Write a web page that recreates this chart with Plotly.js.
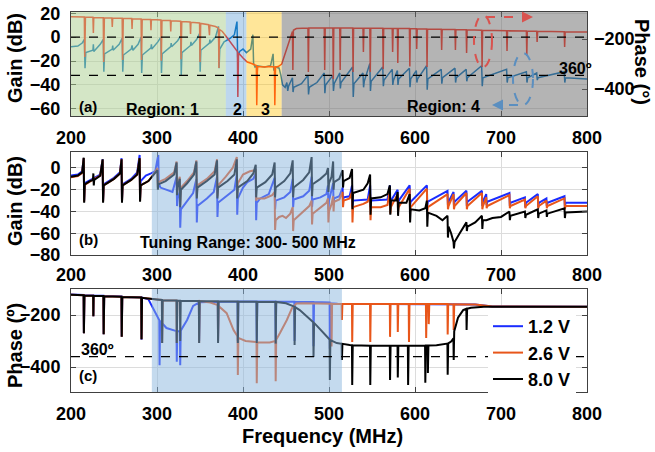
<!DOCTYPE html>
<html><head><meta charset="utf-8">
<script src="https://cdn.plot.ly/plotly-3.0.1.min.js"></script>
<style>html,body{margin:0;padding:0;background:#fff}#chart{width:655px;height:452px}</style>
</head><body><div id="chart"></div>
<script>
// ---------- data ----------
const freqTicks=[200,300,400,500,600,700,800];
const gainTicksA=[-60,-40,-20,0,20];
const phaseTicksA=[-400,-200];
const gainTicksB=[-80,-60,-40,-20,0];
const phaseTicksC=[-400,-200];
const legendNames=['1.2 V','2.6 V','8.0 V'];
const regionBounds=[200,380,404,445,800];   // Region 1 | 2 | 3 | 4 (MHz)
const tuningRange=[294,515];                 // MHz
const refGainLinesA=[0,-32];                 // dB
const refPhaseLineC=-360;                    // deg

// panel (a) phase (deg) [MHz, deg]
const aPhase=[[200,-111],[215.5,-112],[216,-272],[216.8,-113],[225.5,-113],[226,-176],[226.5,-114],[237.5,-115],[238,-292],[238.8,-116],[247.5,-116],[248,-152],[248.5,-117],[259.5,-117],[260,-284],[260.8,-118],[270.5,-118],[271,-160],[271.5,-119],[281.5,-120],[282,-284],[282.8,-121],[292.5,-122],[293,-165],[293.5,-122],[304.5,-124],[305,-287],[305.8,-125],[315.5,-126],[316,-170],[316.5,-127],[327.5,-129],[328,-281],[328.8,-130],[338.5,-132],[339,-180],[339.5,-133],[349.5,-136],[350,-292],[350.8,-138],[360,-143],[361,-185],[361.5,-145],[368,-150],[371.5,-156],[372,-316],[372.8,-162],[376,-170],[380,-188],[385,-212],[390,-234],[393.5,-250],[394,-432],[394.8,-256],[400,-276],[405,-292],[410,-298],[415.5,-306],[416,-465],[416.8,-310],[425,-312],[430,-310],[436.5,-312],[437,-465],[437.8,-312],[441,-310],[445,-300],[448,-270],[452,-225],[455,-195],[457.5,-170],[458,-324],[458.6,-165],[462,-158],[475.5,-156],[476,-332],[476.6,-156],[494.5,-156],[495,-324],[495.6,-156],[504.5,-156],[505,-360],[505.6,-156],[512.5,-156],[513,-324],[513.6,-156],[527.5,-156],[528,-332],[528.6,-156],[539.5,-157],[540,-252],[540.6,-157],[547.5,-157],[548,-332],[548.6,-157],[562.5,-157],[563,-320],[563.6,-157],[573.5,-158],[574,-252],[574.6,-158],[579.5,-158],[580,-296],[580.6,-158],[593.5,-158],[594,-310],[594.6,-158],[601.5,-159],[602,-240],[602.6,-159],[613.5,-160],[614,-312],[614.6,-160],[630.5,-161],[631,-244],[631.6,-161],[646.5,-162],[647,-244],[647.6,-162],[659.5,-163],[660,-256],[660.6,-163],[677.5,-165],[678,-312],[678.6,-165],[706.5,-167],[707,-248],[707.6,-167],[729.5,-168],[730,-268],[730.6,-168],[741.5,-169],[742,-212],[742.6,-169],[773.5,-171],[774,-232],[774.6,-171],[800,-172]];

// panel (a) gain (dB) [MHz, dB]
const aGain=[[200,-8],[208,-7.5],[213,-5],[215.5,-2],[216.3,-26],[217.2,-13],[225.5,-11],[226,-6],[226.5,-12],[234,-6],[237.5,-2],[238.2,-29],[239,-14],[248,-10],[248.5,-7],[249,-11],[256,-6],[259.5,-1],[260.2,-29],[261,-15],[270,-10],[271,-7],[272,-11],[278,-6],[281.5,0],[282.2,-30],[283,-15],[293,-9],[293.5,-6],[294,-10],[301,-4],[304.5,0],[305.2,-30],[306,-14],[316,-8],[316.5,-5],[317,-8],[324,-3],[327.5,1],[328.2,-32],[329,-13],[339,-7],[339.5,-4],[340,-7],[346,-2],[349.5,3],[350.2,-29],[351,-11],[361,-5],[361.5,-2],[362,-5],[368,0],[371.5,9],[372.2,-26],[373,-10],[378,-4],[385,-1],[390,2],[393,13],[393.8,-17],[396,-12],[400,-10],[404,-13],[409,-10],[411.5,2],[412.3,-22],[414,-25],[416,-24],[416.5,-30],[417,-24],[425,-25],[432,-24],[435,-14],[435.8,-28],[438,-25],[442,-26],[444,-32],[446,-40],[449,-42],[451,-38],[452,-45],[453,-41],[457.5,-34],[458.2,-46],[459,-42],[468,-39],[475.5,-32],[476.2,-48],[477,-42],[486,-38],[494.5,-30],[495.2,-47],[496,-40],[504.5,-32],[505.2,-45],[506,-39],[512.5,-30],[513.2,-43],[514,-38],[527.5,-25],[528.2,-50],[529,-39],[539.5,-30],[540.2,-42],[541,-37],[547.5,-22],[548.2,-45],[549,-37],[562.5,-25],[563.2,-41],[564,-36],[573.5,-27],[574.2,-40],[575,-36],[579.5,-28],[580.2,-40],[581,-35],[593.5,-26],[594.2,-42],[595,-35],[601.5,-28],[602.2,-38],[603,-35],[613.5,-24],[614.2,-44],[615,-35],[630.5,-27],[631.2,-39],[632,-34],[646.5,-26],[647.2,-38],[648,-34],[659.5,-27],[660.2,-37],[661,-34],[677.5,-24],[678.2,-41],[679,-34],[706.5,-27],[707.2,-38],[708,-34],[729.5,-29],[730.2,-38],[731,-34],[741.5,-30],[742.2,-36],[743,-34],[773.5,-29],[774.2,-38],[775,-34],[800,-35]];

// panel (b) gain (dB) per bias
const bGain12=[[200,-7],[208,-6],[213,-3],[214.8,9],[215.3,-30],[216,-14],[225,-10],[234,-6],[236.8,8],[237.3,-30],[238,-15],[250,-9],[257,-4],[258.8,9],[259.3,-30],[260,-15],[270,-10],[277,-4],[279.8,12],[280.3,-28],[281,-12],[287,-7],[293,-5],[298,-3],[301.5,12],[302,-14],[304,-18],[310,-20],[318,-22],[322.8,-8],[323.3,-35],[324,-28],[326.5,-22],[327,-55],[327.8,-38],[335,-30],[342,-23],[345.8,-10],[346.3,-50],[347,-35],[358,-28],[366,-22],[369.8,-8],[370.3,-45],[371,-32],[382,-25],[390,-20],[392.8,-6],[393.3,-43],[394,-28],[400,-18],[405,-13],[412,-10],[414.8,-5],[415.3,-48],[416,-32],[420,-28],[430,-24],[436.8,-9],[437.3,-38],[438,-30],[448,-27],[455,-22],[457.8,-10],[458.3,-36],[459,-29],[470,-26],[477,-21],[479.8,-8],[480.3,-36],[481,-29],[490,-27],[497,-24],[498.8,-16],[499.3,-38],[500,-30],[504.8,-14],[505.3,-34],[506,-28],[512,-26],[515.8,-18],[516.3,-32],[517,-27],[524,-26],[526.8,-16],[527.3,-36],[528,-30],[545,-29],[547.8,-16],[548.3,-36],[549,-30],[568,-29],[570.8,-16],[571.3,-34],[572,-30],[579.8,-20],[580.3,-34],[581,-30],[593.8,-16],[594.3,-34],[595,-31],[613.8,-16],[614.3,-35],[615,-31],[637.8,-21],[638.3,-34],[639,-31],[644.8,-22],[645.3,-34],[646,-31],[659.8,-21],[660.3,-35],[661,-31],[677.8,-21],[678.3,-35],[679,-31],[682.8,-24],[683.3,-34],[684,-31],[709.8,-23],[710.3,-35],[711,-32],[727.8,-27],[728.3,-36],[729,-32],[742.8,-24],[743.3,-36],[744,-32],[752.8,-28],[753.3,-35],[754,-32],[773.8,-26],[774.3,-36],[775,-32],[800,-32]];
const bGain26=[[200,-8.5],[208,-7.5],[213,-4.5],[214.8,9],[215.3,-31],[216,-15.5],[225,-11],[234,-7],[236.8,7.5],[237.3,-31],[238,-16],[250,-10],[257,-5],[258.8,8],[259.3,-31],[260,-16],[270,-11],[277,-6],[279.8,9],[280.3,-30],[281,-16],[290,-12],[297,-5],[300.5,0],[301,-18],[301.5,-13],[310,-10],[320,-4],[322.8,6],[323.3,-24],[324,-16],[326.5,-8],[327,-34],[327.8,-18],[335,-12],[343,-4],[345.8,7],[346.3,-26],[347,-16],[358,-10],[367,-3],[369.8,8],[370.3,-26],[371,-16],[380,-8],[388,0],[392.8,10],[393.3,-26],[394,-14],[400,-6],[408,-3],[414.8,-2],[415.3,-30],[416,-28],[425,-28],[434,-25],[436.8,-22],[437.3,-57],[438,-48],[442,-45],[446,-44],[450,-46],[455,-42],[457.8,-36],[458.3,-58],[459,-48],[470,-40],[477,-35],[479.8,-30],[480.3,-52],[481,-42],[490,-36],[497,-32],[498.8,-28],[499.3,-50],[500,-40],[503,-33],[504.8,-26],[505.3,-40],[506,-31],[512,-29],[515.8,-22],[516.3,-36],[517,-30],[524,-28],[526.8,-22],[527.3,-50],[528,-36],[540,-33],[545,-31],[547.8,-24],[548.3,-48],[549,-36],[560,-36],[568,-34],[570.8,-20],[571.3,-42],[572,-36],[579.8,-24],[580.3,-40],[581,-36],[593.8,-19],[594.3,-40],[595,-36],[613.8,-19],[614.3,-40],[615,-36],[637.8,-24],[638.3,-38],[639,-35],[644.8,-24],[645.3,-38],[646,-35],[659.8,-23],[660.3,-38],[661,-35],[677.8,-23],[678.3,-38],[679,-35],[682.8,-27],[683.3,-37],[684,-35],[709.8,-25],[710.3,-37],[711,-35],[727.8,-29],[728.3,-37],[729,-35],[742.8,-26],[743.3,-37],[744,-35],[752.8,-30],[753.3,-37],[754,-35],[773.8,-28],[774.3,-38],[775,-35],[800,-35]];
const bGain80=[[200,-8],[208,-7],[213,-4],[214.8,9.5],[215.3,-32],[216,-15],[222,-12],[225.5,-11],[226,-5],[226.5,-16],[227,-11],[234,-7],[236.8,8],[237.3,-32],[238,-16],[250,-10],[257,-5],[258.8,8],[259.3,-32],[260,-16],[270,-11],[277,-6],[279.8,9],[280.3,-31],[281,-16],[290,-12],[297,-6],[300.5,-2],[301,-20],[301.5,-15],[310,-12],[320,-6],[322.8,5],[323.3,-25],[324,-18],[326.5,-10],[327,-36],[327.8,-20],[335,-14],[343,-6],[345.8,6],[346.3,-28],[347,-18],[358,-12],[367,-6],[369.8,7],[370.3,-28],[371,-18],[382,-12],[390,-6],[392.8,8],[393.3,-28],[394,-18],[405,-12],[412,-5],[414.8,3],[415.3,-27],[416,-18],[426,-13],[434,-6],[436.8,5],[437.3,-27],[438,-18],[448,-12],[455,-5],[457.8,7],[458.3,-27],[459,-18],[470,-11],[477,-4],[479.8,10],[480.3,-26],[481,-15],[490,-10],[497,-5],[498.8,0],[499.3,-22],[500,-14],[503,-8],[504.8,6],[505.3,-20],[506,-13],[512,-10],[515.8,-2],[516.3,-18],[517,-12],[524,-9],[526.8,-1],[527.3,-38],[528,-23],[540,-20],[545,-14],[547.8,-6],[548.3,-43],[549,-28],[560,-27],[568,-24],[570.8,-16],[571.3,-43],[572,-30],[578,-30],[579.8,-22],[580.3,-44],[581,-32],[590,-32],[593.8,-24],[594.3,-50],[595,-38],[605,-39],[612,-37],[613.8,-30],[614.3,-54],[615,-41],[625,-44],[632,-48],[637.8,-44],[638.3,-64],[639,-54],[642,-60],[644.8,-68],[645.3,-74],[646,-68],[652,-60],[659.8,-50],[660.3,-58],[661,-54],[670,-50],[677.8,-44],[678.3,-56],[679,-48],[683,-48],[690,-46],[700,-45],[709.8,-40],[710.3,-48],[711,-44],[727.8,-40],[728.3,-46],[729,-43],[742.8,-38],[743.3,-46],[744,-42],[752.8,-39],[753.3,-45],[754,-42],[773.8,-37],[774.3,-46],[775,-41],[800,-40]];

// panel (c) phase (deg) per bias
const cPhase12=[[200,-121],[214.7,-123],[215,-270],[215.6,-124],[225.8,-125],[226,-205],[226.3,-125],[237.7,-126],[238,-274],[238.6,-127],[258.7,-129],[259,-284],[259.6,-130],[270,-132],[281.7,-132],[282,-295],[282.6,-133],[290,-140],[298,-192],[302.7,-220],[303,-393],[303.6,-223],[311,-250],[322.7,-262],[323,-380],[323.6,-262],[326.7,-262],[327,-393],[327.6,-260],[335,-219],[342,-165],[348.7,-152],[349,-300],[349.6,-151],[370.7,-149],[371,-300],[371.6,-149],[393.7,-148],[394,-300],[394.6,-148],[415.7,-148],[416,-300],[416.6,-148],[437.7,-148],[438,-300],[438.6,-148],[459.7,-149],[460,-300],[460.6,-149],[481.7,-150],[482,-320],[482.6,-150],[500.7,-152],[501,-330],[501.6,-155],[510,-157],[670,-160],[690,-167],[800,-168]];
const cPhase26=[[200,-122],[214.7,-124],[215,-270],[215.6,-125],[225.8,-126],[226,-205],[226.3,-126],[237.7,-127],[238,-274],[238.6,-128],[258.7,-130],[259,-284],[259.6,-131],[281.7,-133],[282,-293],[282.6,-134],[292,-136],[300,-140],[305.7,-142],[306,-308],[306.6,-143],[322.7,-144],[323,-308],[323.6,-145],[348.7,-146],[349,-308],[349.6,-146],[362,-152],[370.7,-162],[371,-300],[371.6,-165],[381,-193],[389,-258],[393.7,-282],[394,-431],[394.6,-288],[403,-300],[415.7,-304],[416,-462],[416.6,-306],[431,-306],[437.7,-300],[438,-455],[438.6,-295],[443,-269],[451,-219],[457,-173],[462,-156],[470,-155],[502.7,-157],[503,-321],[503.6,-157],[514.7,-158],[515,-219],[515.6,-158],[526.7,-158],[527,-304],[527.6,-158],[547.7,-158],[548,-304],[548.6,-158],[570.7,-158],[571,-284],[571.6,-158],[579.7,-158],[580,-265],[580.6,-158],[592.7,-158],[593,-304],[593.6,-158],[612.7,-158],[613,-288],[613.6,-158],[615.7,-158],[616,-235],[616.6,-158],[637.7,-158],[638,-275],[638.6,-158],[644.7,-159],[645,-258],[645.6,-159],[670,-160],[690,-167],[800,-168]];
const cPhase80=[[200,-122],[214.7,-124],[215,-270],[215.6,-125],[225.8,-126],[226,-205],[226.3,-126],[237.7,-127],[238,-274],[238.6,-128],[258.7,-130],[259,-284],[259.6,-131],[281.7,-133],[282,-293],[282.6,-134],[292,-136],[300,-140],[305.7,-142],[306,-308],[306.6,-143],[322.7,-144],[323,-308],[323.6,-145],[326.7,-145],[327,-300],[327.6,-145],[348.7,-146],[349,-308],[349.6,-146],[370.7,-147],[371,-308],[371.6,-147],[393.7,-148],[394,-308],[394.6,-148],[415.7,-149],[416,-308],[416.6,-149],[437.7,-150],[438,-310],[438.6,-150],[450,-155],[459.7,-168],[460,-315],[460.6,-170],[466,-181],[476,-210],[481.7,-228],[482,-361],[482.6,-230],[486,-242],[495,-275],[500.7,-294],[501,-450],[501.6,-296],[509,-308],[514.7,-311],[515,-373],[515.6,-311],[524,-315],[526.7,-316],[527,-469],[527.6,-316],[547.7,-318],[548,-469],[548.6,-318],[570.7,-318],[571,-450],[571.6,-318],[579.7,-318],[580,-440],[580.6,-318],[591.7,-318],[592,-469],[592.6,-318],[611.7,-317],[612,-460],[612.6,-317],[614.7,-317],[615,-423],[615.6,-317],[625,-316],[637.7,-310],[638,-430],[638.6,-309],[642,-302],[644.7,-290],[645,-373],[645.6,-262],[650,-210],[656,-181],[659.7,-176],[660,-258],[660.6,-176],[665,-172],[680,-168],[800,-168]];

// ---------- layout helpers (pixel -> paper) ----------
const W=655,H=452;
const PX=x=>x/W, PY=y=>1-y/H;
const FONT='Liberation Sans, Arial, Helvetica, sans-serif';
const xs=a=>a.map(p=>p[0]), ys=a=>a.map(p=>p[1]);

const C_RED='#ff2a1a', C_BLUEA='#0070c0';
const C12='#1a2cff', C26='#e8561a', C80='#000000';

const traces=[
  {x:xs(aGain),y:ys(aGain),xaxis:'x',yaxis:'y',mode:'lines',line:{color:C_BLUEA,width:1.5},showlegend:false,hoverinfo:'skip'},
  {x:xs(aPhase),y:ys(aPhase),xaxis:'x',yaxis:'y2',mode:'lines',line:{color:C_RED,width:1.5},showlegend:false,hoverinfo:'skip'},
  {x:xs(bGain12),y:ys(bGain12),xaxis:'x2',yaxis:'y3',mode:'lines',line:{color:C12,width:2},showlegend:false,hoverinfo:'skip'},
  {x:xs(bGain26),y:ys(bGain26),xaxis:'x2',yaxis:'y3',mode:'lines',line:{color:C26,width:2},showlegend:false,hoverinfo:'skip'},
  {x:xs(bGain80),y:ys(bGain80),xaxis:'x2',yaxis:'y3',mode:'lines',line:{color:C80,width:2},showlegend:false,hoverinfo:'skip'},
  {x:xs(cPhase12),y:ys(cPhase12),xaxis:'x3',yaxis:'y4',mode:'lines',line:{color:C12,width:2},name:legendNames[0],hoverinfo:'skip'},
  {x:xs(cPhase26),y:ys(cPhase26),xaxis:'x3',yaxis:'y4',mode:'lines',line:{color:C26,width:2},name:legendNames[1],hoverinfo:'skip'},
  {x:xs(cPhase80),y:ys(cPhase80),xaxis:'x3',yaxis:'y4',mode:'lines',line:{color:C80,width:2},name:legendNames[2],hoverinfo:'skip'}
];

const tickF={family:FONT,size:18,color:'#000',weight:700};
const ax=(o)=>Object.assign({showline:true,linecolor:'#404040',linewidth:1,mirror:'ticks',ticks:'inside',ticklen:5,tickcolor:'#404040',
  showgrid:true,gridcolor:'#dcdcdc',gridwidth:1,zeroline:false,tickfont:tickF,fixedrange:true},o);
const XD=[71/W,587/W];
const DA=[PY(116),PY(12)], DB=[PY(255),PY(152)], DC=[PY(392),PY(289)];

const regionCols=[['rgb(169,205,141)',0.5],['rgb(66,141,206)',0.35],['rgb(255,192,0)',0.4],['rgb(105,105,105)',0.5]];
const shapes=[];
for(let i=0;i<4;i++){
  shapes.push({type:'rect',xref:'x',yref:'y domain',x0:regionBounds[i],x1:regionBounds[i+1],y0:0,y1:1,
    fillcolor:regionCols[i][0],opacity:regionCols[i][1],line:{width:0},layer:'above'});
}
shapes.push({type:'rect',xref:'x2',yref:'y3 domain',x0:tuningRange[0],x1:tuningRange[1],y0:0,y1:1,fillcolor:'rgb(137,181,221)',opacity:0.5,line:{width:0},layer:'above'});
shapes.push({type:'rect',xref:'x3',yref:'y4 domain',x0:tuningRange[0],x1:tuningRange[1],y0:0,y1:1,fillcolor:'rgb(137,181,221)',opacity:0.5,line:{width:0},layer:'above'});
refGainLinesA.forEach(v=>shapes.push({type:'line',xref:'x domain',yref:'y',x0:0,x1:1,y0:v,y1:v,line:{color:'#000',width:1.3,dash:'dash'},layer:'above'}));
shapes.push({type:'line',xref:'x3 domain',yref:'y4',x0:0,x1:1,y0:refPhaseLineC,y1:refPhaseLineC,line:{color:'#000',width:1.3,dash:'dash'},layer:'above'});
// dashed ellipses + arrows in (a)
const C_ELR='#d9534f', C_ELB='#5b8fc0';
shapes.push({type:'circle',xref:'paper',yref:'paper',x0:PX(474),x1:PX(492),y0:PY(67),y1:PY(15),line:{color:C_ELR,width:2,dash:'dash'},layer:'above'});
shapes.push({type:'line',xref:'paper',yref:'paper',x0:PX(486),x1:PX(527),y0:PY(17),y1:PY(17),line:{color:C_ELR,width:2,dash:'dash'},layer:'above'});
shapes.push({type:'circle',xref:'paper',yref:'paper',x0:PX(513),x1:PX(533),y0:PY(105),y1:PY(53),line:{color:C_ELB,width:2,dash:'dash'},layer:'above'});
shapes.push({type:'line',xref:'paper',yref:'paper',x0:PX(518),x1:PX(498),y0:PY(105),y1:PY(105),line:{color:C_ELB,width:2,dash:'dash'},layer:'above'});

const A=(t,x,y,size,extra)=>Object.assign({text:t,xref:'paper',yref:'paper',x:PX(x),y:PY(y),xanchor:'center',yanchor:'middle',showarrow:false,
  font:{family:FONT,size:size,color:'#000',weight:700}},extra||{});
const annotations=[
  A('Gain (dB)',15,58,20,{textangle:-90}),
  A('Phase (°)',642,62,20,{textangle:90}),
  A('Gain (dB)',15,201,20,{textangle:-90}),
  A('Phase (º)',15,346,20,{textangle:-90}),
  A('Frequency (MHz)',322,436,20),
  A('(a)',88,106,15),
  A('Region: 1',162,109,16),
  A('2',237,109,16),
  A('3',265,109,16),
  A('Region: 4',444,106,16),
  A('360º',575,69,16),
  A('(b)',88,239,15),
  A('Tuning Range: 300- 500 MHz',248,242,16),
  A('(c)',88,375,15),
  A('360º',97,349,16),
  {x:PX(533),y:PY(17),xref:'paper',yref:'paper',ax:-9,ay:0,showarrow:true,arrowhead:2,arrowsize:1.1,arrowwidth:2,arrowcolor:C_ELR,text:''},
  {x:PX(492),y:PY(105),xref:'paper',yref:'paper',ax:9,ay:0,showarrow:true,arrowhead:2,arrowsize:1.1,arrowwidth:2,arrowcolor:C_ELB,text:''}
];

const layout={
  width:W,height:H,margin:{l:0,r:0,t:0,b:0},paper_bgcolor:'#fff',plot_bgcolor:'#fff',
  font:{family:FONT,color:'#000'},
  xaxis:ax({domain:XD,range:[200,800],anchor:'y',tickvals:freqTicks,ticklabelstandoff:5}),
  yaxis:ax({domain:DA,range:[-66,21],anchor:'x',tickvals:gainTicksA,mirror:true,ticklabelstandoff:6}),
  yaxis2:ax({overlaying:'y',side:'right',range:[-508,-92],anchor:'x',tickvals:phaseTicksA,showgrid:false,showline:false,mirror:false,ticklabelstandoff:6}),
  xaxis2:ax({domain:XD,range:[200,800],anchor:'y3',tickvals:freqTicks,ticklabelstandoff:3}),
  yaxis3:ax({domain:DB,range:[-80,14.7],anchor:'x2',tickvals:gainTicksB,ticklabelstandoff:6}),
  xaxis3:ax({domain:XD,range:[200,800],anchor:'y4',tickvals:freqTicks,ticklabelstandoff:5}),
  yaxis4:ax({domain:DC,range:[-496,-100],anchor:'x3',tickvals:phaseTicksC,ticklabelstandoff:6}),
  showlegend:true,
  legend:{x:PX(488),y:PY(308),xanchor:'left',yanchor:'top',bgcolor:'#ffffff',borderwidth:0,
    font:{family:FONT,size:18,color:'#000',weight:700},tracegroupgap:0,itemwidth:30},
  shapes:shapes,annotations:annotations
};
Plotly.newPlot('chart',traces,layout,{staticPlot:true,displayModeBar:false});
</script></body></html>
